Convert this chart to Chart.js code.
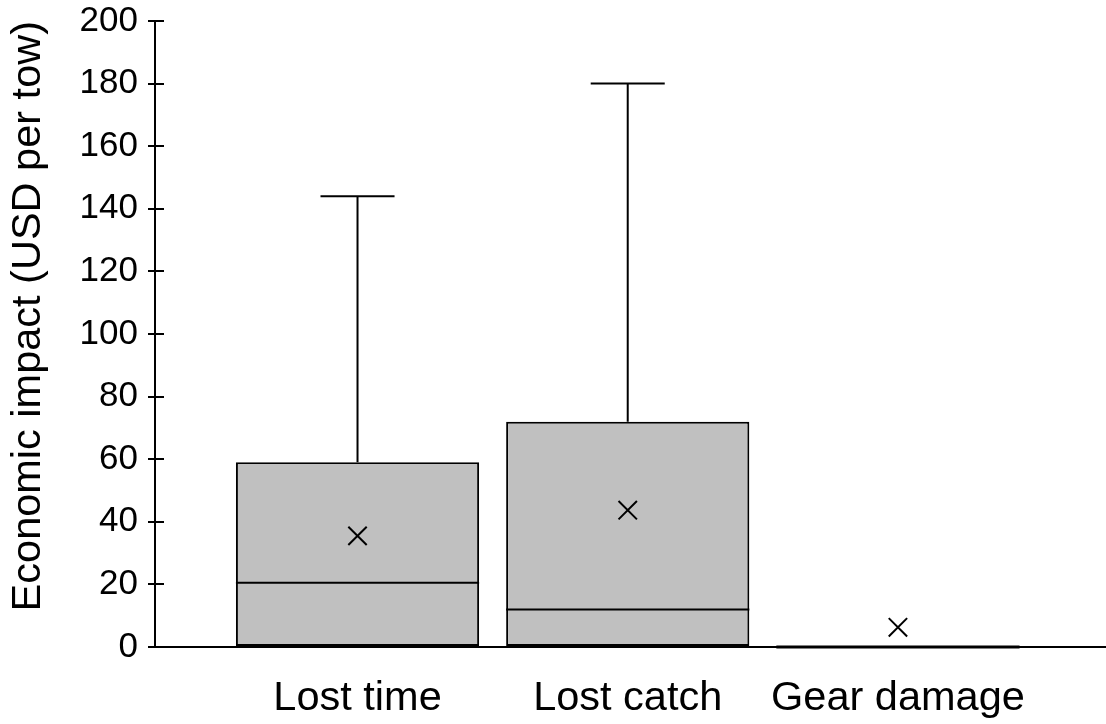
<!DOCTYPE html>
<html>
<head>
<meta charset="utf-8">
<script src="https://cdn.jsdelivr.net/npm/chart.js"></script>
<style>
  html, body { margin: 0; padding: 0; background: #fff; overflow: hidden; }
  #wrap { width: 1106px; height: 724px; position: relative; }
  #boxChart { display: block; }
</style>
</head>
<body>
<div id="wrap"><canvas id="boxChart"></canvas></div>
<script>
// box plot values (USD per tow)
const categories = ["Lost time", "Lost catch", "Gear damage"];
const positions = [1, 2, 3];
const q1 = [0, 0, 0];
const q3 = [59, 72, 0];
const medians = [20.5, 12, 0];
const whiskerHigh = [144, 180, 0];
const means = [35.5, 43.7, 6.3];
const yTicks = [0, 20, 40, 60, 80, 100, 120, 140, 160, 180, 200];

const FONT = "'Liberation Sans', Arial, Helvetica, sans-serif";
const CAP_HALF = 0.137; // half width of whisker cap, in category units

Chart.defaults.font.family = FONT;
Chart.defaults.color = '#000';

function line(ctx, x1, y1, x2, y2) {
  ctx.beginPath();
  ctx.moveTo(x1, y1);
  ctx.lineTo(x2, y2);
  ctx.stroke();
}

// medians, whiskers and the inward half of the y tick marks
const boxExtras = {
  id: 'boxExtras',
  afterDatasetsDraw(chart) {
    const { ctx, chartArea, scales: { x, y } } = chart;
    const bars = chart.getDatasetMeta(0).data;
    ctx.save();
    ctx.strokeStyle = '#000';
    ctx.lineWidth = 2;
    ctx.lineCap = 'butt';

    y.ticks.forEach(t => {
      const py = Math.round(y.getPixelForValue(t.value));
      line(ctx, chartArea.left, py, chartArea.left + 9, py);
    });

    categories.forEach((c, i) => {
      const bar = bars[i];
      const left = bar.x - bar.width / 2;
      const right = bar.x + bar.width / 2;
      const pm = y.getPixelForValue(medians[i]);
      ctx.lineWidth = medians[i] === q1[i] ? 3 : 2;
      line(ctx, left, pm, right, pm);
      ctx.lineWidth = 2;

      if (whiskerHigh[i] > q3[i]) {
        const pTop = y.getPixelForValue(whiskerHigh[i]);
        const pQ3 = y.getPixelForValue(q3[i]);
        line(ctx, bar.x, pQ3, bar.x, pTop);
        line(ctx, x.getPixelForValue(positions[i] - CAP_HALF), pTop,
                  x.getPixelForValue(positions[i] + CAP_HALF), pTop);
      }
    });
    ctx.restore();
  }
};

const chart = new Chart(document.getElementById('boxChart').getContext('2d'), {
  type: 'bar',
  data: {
    datasets: [
      {
        type: 'bar',
        label: 'Interquartile range',
        data: positions.map((p, i) => ({ x: p, y: [q1[i], q3[i]] })),
        backgroundColor: '#c0c0c0',
        borderColor: '#000',
        borderWidth: 2,
        borderSkipped: false,
        categoryPercentage: 1,
        barPercentage: 0.9,
        order: 2
      },
      {
        type: 'scatter',
        label: 'Mean',
        data: positions.map((p, i) => ({ x: p, y: means[i] })),
        pointStyle: 'crossRot',
        radius: 13,
        borderColor: '#000',
        borderWidth: 2,
        order: 1
      }
    ]
  },
  options: {
    responsive: true,
    maintainAspectRatio: false,
    animation: false,
    layout: { autoPadding: false, padding: { top: 21, right: 0, bottom: 0, left: 0 } },
    plugins: {
      legend: { display: false },
      tooltip: { enabled: false }
    },
    scales: {
      x: {
        type: 'linear',
        offset: false,
        min: 0.2505,
        max: 3.77,
        afterBuildTicks: scale => { scale.ticks = positions.map(v => ({ value: v })); },
        afterFit: scale => { scale.height = 77; scale.paddingLeft = 0; scale.paddingRight = 0; },
        grid: { display: false, drawTicks: false, tickLength: 0 },
        border: { display: true, color: '#000', width: 2 },
        ticks: {
          padding: 27,
          font: { size: 41.5 },
          color: '#000',
          maxRotation: 0,
          autoSkip: false,
          callback: v => categories[positions.indexOf(v)] || ''
        }
      },
      y: {
        min: 0,
        max: 200,
        afterBuildTicks: scale => { scale.ticks = yTicks.map(v => ({ value: v })); },
        afterFit: scale => { scale.width = 155; scale.paddingTop = 0; scale.paddingBottom = 0; },
        grid: { drawOnChartArea: false, drawTicks: true, tickLength: 7, color: '#000', lineWidth: 2 },
        border: { display: true, color: '#000', width: 2 },
        ticks: { padding: 10, font: { size: 35 }, color: '#000' },
        title: {
          display: true,
          text: 'Economic impact (USD per tow)',
          align: 'end',
          font: { size: 41.5 },
          color: '#000',
          padding: { top: 4, bottom: 4 }
        }
      }
    }
  },
  plugins: [boxExtras]
});
</script>
</body>
</html>
